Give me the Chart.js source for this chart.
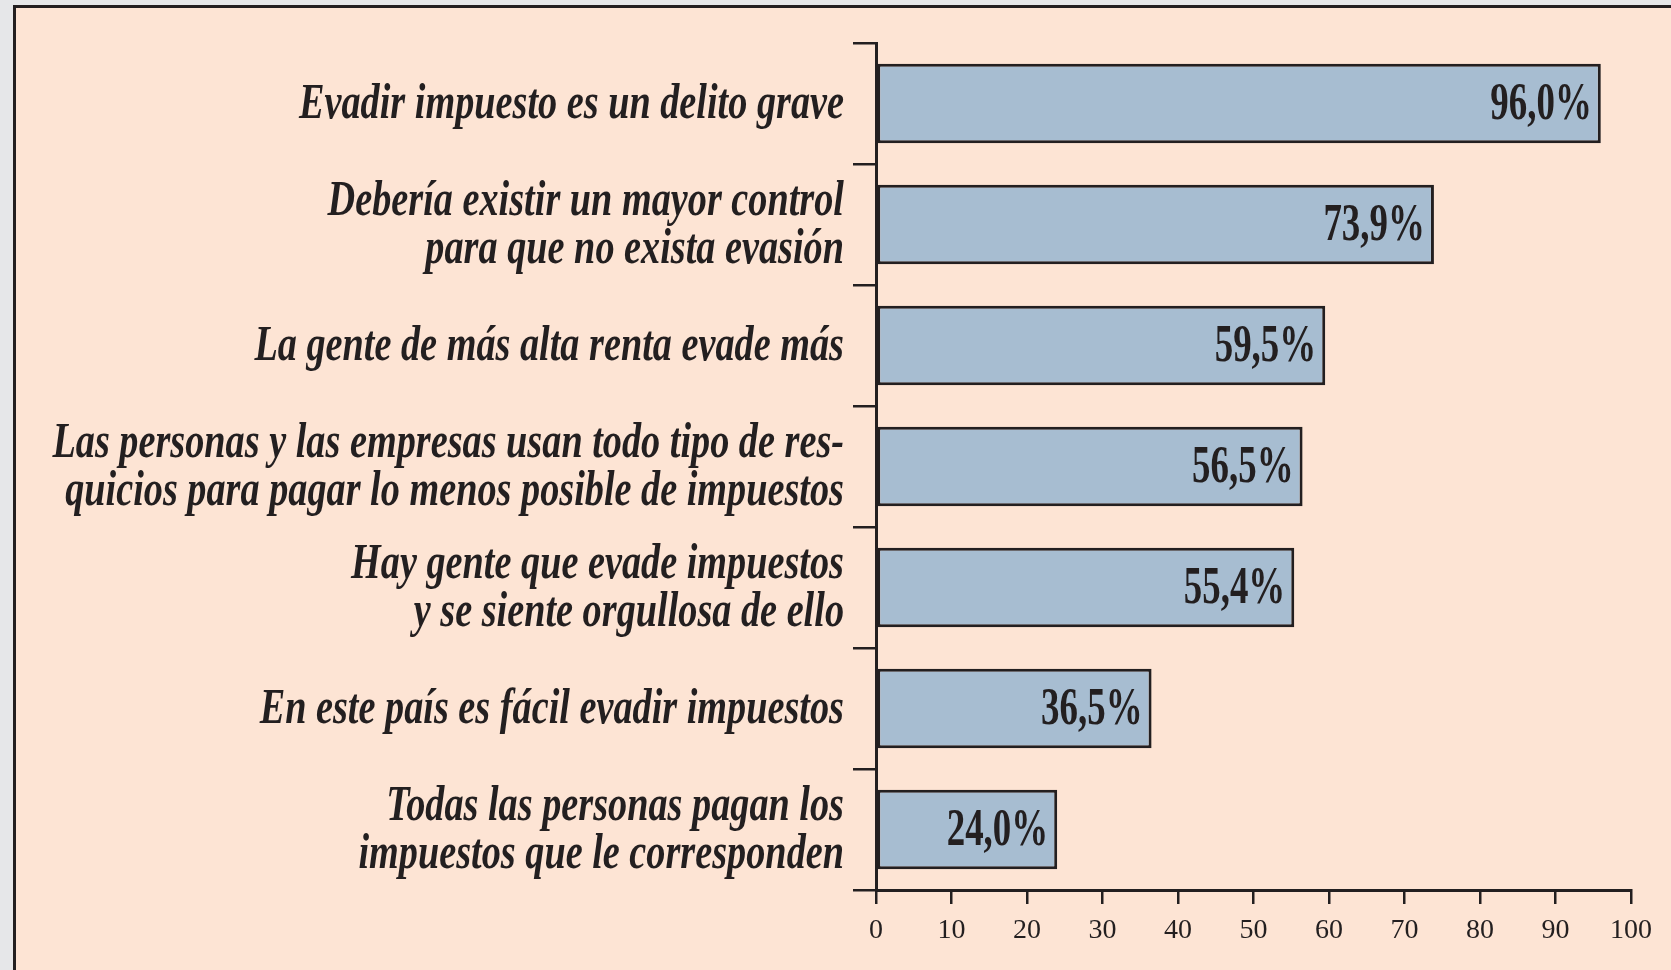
<!DOCTYPE html>
<html>
<head>
<meta charset="utf-8">
<script src="https://cdn.jsdelivr.net/npm/chart.js@4"></script>
<style>
  html, body { margin: 0; padding: 0; background: #e6e7e9; overflow: hidden; }
  #panel {
    position: absolute; left: 13px; top: 5px; width: 1700px; height: 1000px;
    background: #fde4d4; border: 3px solid #231f20;
  }
  #wrap { position: absolute; left: 0; top: 0; width: 1671px; height: 970px; }
</style>
</head>
<body>
<div id="panel"></div>
<div id="wrap"><canvas id="chart" width="1671" height="970"></canvas></div>
<script>
// categories (top to bottom)
const categories = [
    ['Evadir impuesto es un delito grave'],
    ['Debería existir un mayor control', 'para que no exista evasión'],
    ['La gente de más alta renta evade más'],
    ['Las personas y las empresas usan todo tipo de res-', 'quicios para pagar lo menos posible de impuestos'],
    ['Hay gente que evade impuestos', 'y se siente orgullosa de ello'],
    ['En este país es fácil evadir impuestos'],
    ['Todas las personas pagan los', 'impuestos que le corresponden']
];
// percentages
const values = [96.0, 73.9, 59.5, 56.5, 55.4, 36.5, 24.0];
const valueLabels = ['96,0%', '73,9%', '59,5%', '56,5%', '55,4%', '36,5%', '24,0%'];
const xTicks = [0, 10, 20, 30, 40, 50, 60, 70, 80, 90, 100];

const ink = '#231f20';

// draws condensed text (the original uses a narrow Times face)
function condensedText(ctx, text, x, y, font, squeeze) {
    ctx.save();
    ctx.font = font;
    ctx.fillStyle = ink;
    ctx.textAlign = 'right';
    ctx.textBaseline = 'middle';
    ctx.translate(x, y);
    ctx.scale(squeeze, 1);
    ctx.fillText(text, 0, 0);
    ctx.restore();
}

const labelPlugin = {
    id: 'labelPlugin',
    afterDatasetsDraw(chart) {
        const ctx = chart.ctx;
        const yScale = chart.scales.y;
        const meta = chart.getDatasetMeta(0);
        // category labels left of the axis
        categories.forEach((lines, i) => {
            const cy = yScale.getPixelForValue(i);
            const lineH = 48;
            const start = cy - (lines.length - 1) * lineH / 2;
            lines.forEach((line, j) => {
                condensedText(ctx, line, yScale.right - 32, start + j * lineH + 2,
                    'italic bold 50px "Liberation Serif"', 0.765);
            });
        });
        // value labels inside the bars
        meta.data.forEach((bar, i) => {
            condensedText(ctx, valueLabels[i], bar.x - 9, bar.y + 2,
                'bold 52px "Liberation Serif"', 0.71);
        });
    }
};

new Chart(document.getElementById('chart'), {
    type: 'bar',
    data: {
        labels: categories.map(c => c.join(' ')),
        datasets: [{
            data: values,
            backgroundColor: '#a7bdd1',
            borderColor: ink,
            borderWidth: 3,
            borderSkipped: false,
            barPercentage: 0.655,
            categoryPercentage: 1
        }]
    },
    options: {
        indexAxis: 'y',
        responsive: false,
        animation: false,
        layout: { padding: { top: 43, right: 40, left: 0, bottom: 0 } },
        plugins: { legend: { display: false }, tooltip: { enabled: false } },
        scales: {
            x: {
                min: 0,
                max: 100,
                afterBuildTicks(scale) { scale.ticks = xTicks.map(v => ({ value: v })); },
                afterFit(scale) { scale.height = 80; },
                border: { color: ink, width: 3 },
                grid: { drawOnChartArea: false, color: ink, lineWidth: 2.5, tickLength: 14 },
                ticks: {
                    color: ink,
                    padding: 10,
                    font: { family: 'Liberation Serif', size: 28 }
                }
            },
            y: {
                afterFit(scale) { scale.width = 876; },
                border: { color: ink, width: 3 },
                grid: { drawOnChartArea: false, color: ink, lineWidth: 2.5, tickLength: 23, offset: true },
                ticks: { display: false }
            }
        }
    },
    plugins: [labelPlugin]
});
</script>
</body>
</html>
